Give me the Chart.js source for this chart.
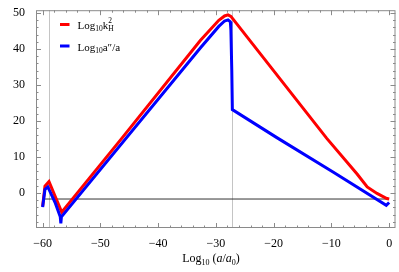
<!DOCTYPE html>
<html>
<head>
<meta charset="utf-8">
<script src="https://cdn.jsdelivr.net/npm/chart.js"></script>
<style>
  body { margin: 0; background: #fff; }
  canvas { display: block; }
</style>
</head>
<body>
<canvas id="chart" width="399" height="272"></canvas>
<script>
// Log10 k_H^2 (red)
const redX = [-60, -59.6, -58.9, -56.7, -46.3, -32.7, -29.5, -28.5, -27.9, -27.4, -10.8, -5.55, -3.8, -2.1, -0.4, 0];
const redY = [-3.7, 1.9, 3.2, -5.3, 15.2, 42.4, 48.0, 49.2, 49.5, 49.1, 15.2, 5.3, 1.7, -0.1, -1.5, -1.65];

// Log10 a''/a (blue)
const blueX = [-60, -59.6, -59.1, -57.8, -56.95, -56.85, -56.75, -32.7, -29.5, -28.5, -27.9, -27.5, -27.4, -27.25, -27.15, -19.45, -9.65, -0.5, 0];
const blueY = [-3.9, 1.0, 1.7, -2.8, -6.6, -8.4, -6.6, 40.3, 46.3, 47.8, 48.1, 47.6, 45.2, 34.2, 23.2, 15.4, 5.8, -3.4, -2.6];

// thin black reference line
const hLineX = [-60, 0];
const hLineY = [-1.65, -1.65];

// gray vertical reference lines
const vLines = [-58.9, -27.2];

// labelled ticks
const xLabelValues = [-60, -50, -40, -30, -20, -10, 0];
const yLabelValues = [0, 10, 20, 30, 40, 50];

const serif = '"Liberation Serif", "DejaVu Serif", serif';

function toPoints(xs, ys) {
    return xs.map((x, i) => ({ x: x, y: ys[i] }));
}

function tickLabel(list) {
    return function (v) {
        const r = Math.round(v);
        if (Math.abs(v - r) > 1e-6 || !list.includes(r)) return '';
        return r < 0 ? '\u2212' + (-r) : String(r);
    };
}

// draw a row of text pieces, each with its own font and vertical shift
function drawPieces(ctx, pieces, x, y) {
    pieces.forEach(p => {
        ctx.font = p.font;
        ctx.fillText(p.text, x, y + (p.dy || 0));
        x += ctx.measureText(p.text).width + (p.gap || 0);
    });
    return x;
}

function piecesWidth(ctx, pieces) {
    let w = 0;
    pieces.forEach(p => {
        ctx.font = p.font;
        w += ctx.measureText(p.text).width + (p.gap || 0);
    });
    return w;
}

const framePlugin = {
    id: 'frame',
    beforeDatasetsDraw(chart) {
        const ctx = chart.ctx;
        const a = chart.chartArea;
        const xs = chart.scales.x;
        ctx.save();
        ctx.strokeStyle = '#c4c4c4';
        ctx.lineWidth = 1;
        vLines.forEach(v => {
            const px = Math.round(xs.getPixelForValue(v)) + 0.5;
            ctx.beginPath();
            ctx.moveTo(px, a.top);
            ctx.lineTo(px, a.bottom);
            ctx.stroke();
        });
        ctx.restore();
    },
    afterDraw(chart) {
        const ctx = chart.ctx;
        const a = chart.chartArea;
        const xs = chart.scales.x;
        const ys = chart.scales.y;
        ctx.save();

        // frame
        ctx.strokeStyle = '#8a8a8a';
        ctx.lineWidth = 1;
        ctx.strokeRect(a.left + 0.5, a.top + 0.5, a.right - a.left - 1, a.bottom - a.top - 1);

        // inward ticks on all sides
        ctx.beginPath();
        xs.ticks.forEach(t => {
            const v = t.value;
            if (Math.abs(v / 2 - Math.round(v / 2)) > 1e-6) return;
            const len = Math.round(v) % 10 === 0 ? 5 : 2.5;
            const px = Math.round(xs.getPixelForValue(v)) + 0.5;
            ctx.moveTo(px, a.bottom);
            ctx.lineTo(px, a.bottom - len);
            ctx.moveTo(px, a.top);
            ctx.lineTo(px, a.top + len);
        });
        ys.ticks.forEach(t => {
            const v = t.value;
            if (Math.abs(v / 2 - Math.round(v / 2)) > 1e-6) return;
            const len = Math.round(v) % 10 === 0 ? 5 : 2.5;
            const py = Math.round(ys.getPixelForValue(v)) + 0.5;
            ctx.moveTo(a.left, py);
            ctx.lineTo(a.left + len, py);
            ctx.moveTo(a.right, py);
            ctx.lineTo(a.right - len, py);
        });
        ctx.stroke();

        // legend
        ctx.fillStyle = '#000';
        ctx.textBaseline = 'alphabetic';
        ctx.lineWidth = 3;
        ctx.strokeStyle = '#ff0000';
        ctx.beginPath();
        ctx.moveTo(60, 24.5);
        ctx.lineTo(69.5, 24.5);
        ctx.stroke();
        ctx.strokeStyle = '#0000ff';
        ctx.beginPath();
        ctx.moveTo(60, 46);
        ctx.lineTo(69.5, 46);
        ctx.stroke();

        let x = drawPieces(ctx, [
            { text: 'Log', font: '11px ' + serif },
            { text: '10', font: '7.5px ' + serif, dy: 2.5 },
            { text: 'k', font: '11px ' + serif }
        ], 77.5, 28.5);
        ctx.font = '7.5px ' + serif;
        ctx.fillText('2', x, 23);
        ctx.fillText('H', x, 31);

        drawPieces(ctx, [
            { text: 'Log', font: '11px ' + serif },
            { text: '10', font: '7.5px ' + serif, dy: 2.5 },
            { text: 'a\u2033/a', font: '11px ' + serif }
        ], 77.5, 50.5);

        // x axis title
        const title = [
            { text: 'Log', font: '12px ' + serif },
            { text: '10', font: '8px ' + serif, dy: 3 },
            { text: ' (', font: '12px ' + serif },
            { text: 'a', font: 'italic 12px ' + serif },
            { text: '/', font: '12px ' + serif },
            { text: 'a', font: 'italic 12px ' + serif },
            { text: '0', font: '8px ' + serif, dy: 3 },
            { text: ')', font: '12px ' + serif }
        ];
        const w = piecesWidth(ctx, title);
        drawPieces(ctx, title, 211 - w / 2, 261.5);

        ctx.restore();
    }
};

const ctx = document.getElementById('chart').getContext('2d');
new Chart(ctx, {
    type: 'line',
    data: {
        datasets: [
            {
                label: 'Log10 a\u2033/a',
                data: toPoints(blueX, blueY),
                borderColor: '#0000ff',
                borderWidth: 3,
                pointRadius: 0,
                tension: 0,
                order: 0
            },
            {
                label: 'Log10 kH^2',
                data: toPoints(redX, redY),
                borderColor: '#ff0000',
                borderWidth: 3,
                pointRadius: 0,
                tension: 0,
                order: 1
            },
            {
                label: 'ref',
                data: toPoints(hLineX, hLineY),
                borderColor: '#333333',
                borderWidth: 1,
                pointRadius: 0,
                tension: 0,
                order: 2
            }
        ]
    },
    options: {
        responsive: false,
        animation: false,
        layout: { padding: { top: 5, right: 3.5, left: 0, bottom: 0 } },
        plugins: {
            legend: { display: false },
            tooltip: { enabled: false }
        },
        scales: {
            x: {
                type: 'linear',
                min: -61.15,
                max: 1.1,
                grid: { display: false },
                border: { display: false },
                ticks: {
                    stepSize: 2,
                    maxTicksLimit: 1000,
                    includeBounds: false,
                    autoSkip: false,
                    maxRotation: 0,
                    padding: 1,
                    color: '#000',
                    font: { family: serif, size: 12 },
                    callback: tickLabel(xLabelValues)
                },
                afterFit: s => { s.height = 44; }
            },
            y: {
                type: 'linear',
                min: -9.7,
                max: 50.8,
                grid: { display: false },
                border: { display: false },
                ticks: {
                    stepSize: 2,
                    maxTicksLimit: 1000,
                    includeBounds: false,
                    autoSkip: false,
                    padding: 3,
                    color: '#000',
                    font: { family: serif, size: 12 },
                    callback: tickLabel(yLabelValues)
                },
                afterFit: s => { s.width = 36; }
            }
        }
    },
    plugins: [framePlugin]
});
</script>
</body>
</html>
